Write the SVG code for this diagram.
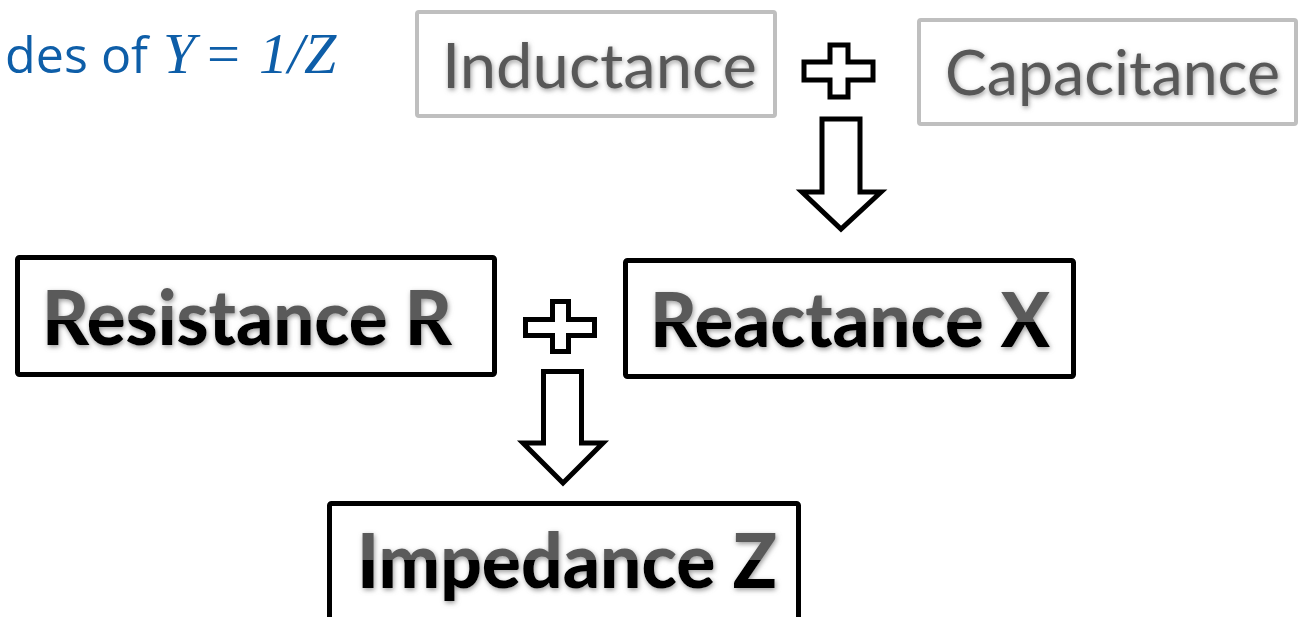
<svg xmlns="http://www.w3.org/2000/svg" width="1315" height="617" viewBox="0 0 1315 617">
<style>
.title{font-family:"Open Sans","Liberation Sans",sans-serif;font-size:50px;fill:#0e5ea8}
.math{font-family:"Liberation Serif","Times New Roman",serif;font-size:58px;fill:#0e5ea8}
.it{font-style:italic}
.gbox{fill:#fff;stroke:#bfbfbf;stroke-width:4}
.bbox{fill:#fff;stroke:#000;stroke-width:5}
.light{font-family:Lato,"Open Sans",sans-serif;font-size:62px;fill:#595959}
.bold{font-family:Lato,"Open Sans",sans-serif;font-weight:900;font-size:76px}
.shape{fill:#fff;stroke:#000;stroke-width:5;stroke-linejoin:miter}
</style>
<defs>
<filter id="soft" x="-10%" y="-30%" width="120%" height="160%">
<feGaussianBlur in="SourceAlpha" stdDeviation="2.5" result="b"/>
<feOffset in="b" dx="0.5" dy="1.5" result="o"/>
<feFlood flood-color="#808080" flood-opacity="0.8" result="f"/>
<feComposite in="f" in2="o" operator="in" result="s"/>
<feMerge result="m"><feMergeNode in="s"/><feMergeNode in="SourceGraphic"/></feMerge>
<feGaussianBlur in="m" stdDeviation="0.7"/>
</filter>
<linearGradient id="gR" gradientUnits="userSpaceOnUse" x1="0" y1="290" x2="0" y2="345">
<stop offset="0.54" stop-color="#5a5a5a"/><stop offset="0.54" stop-color="#000"/>
</linearGradient>
<linearGradient id="gX" gradientUnits="userSpaceOnUse" x1="0" y1="292" x2="0" y2="347">
<stop offset="0.54" stop-color="#5a5a5a"/><stop offset="0.54" stop-color="#000"/>
</linearGradient>
<linearGradient id="gZ" gradientUnits="userSpaceOnUse" x1="0" y1="535" x2="0" y2="588">
<stop offset="0.48" stop-color="#5a5a5a"/><stop offset="0.48" stop-color="#000"/>
</linearGradient>
</defs>
<rect width="1315" height="617" fill="#fff"/>

<g id="title">
<text class="title" x="5" y="73" textLength="143" lengthAdjust="spacingAndGlyphs">des of</text>
<text class="math it" x="163" y="73">Y</text>
<text class="math" x="207" y="73" textLength="33" lengthAdjust="spacingAndGlyphs">=</text>
<text class="math it" x="259" y="73">1/Z</text>
</g>

<g id="inductance">
<rect class="gbox" x="417" y="12" width="358" height="104" rx="2"/>
<text class="light" x="442" y="88" textLength="315" lengthAdjust="spacingAndGlyphs" filter="url(#soft)">Inductance</text>
</g>

<g id="capacitance">
<rect class="gbox" x="919" y="20" width="377" height="104" rx="2"/>
<text class="light" x="945" y="95" textLength="335" lengthAdjust="spacingAndGlyphs" filter="url(#soft)">Capacitance</text>
</g>

<g id="resistance">
<rect class="bbox" x="17.5" y="257.5" width="477" height="117" rx="2"/>
<text class="bold" x="42" y="345" fill="url(#gR)" textLength="410" lengthAdjust="spacingAndGlyphs" filter="url(#soft)">Resistance R</text>
</g>

<g id="reactance">
<rect class="bbox" x="625.5" y="260.5" width="448" height="116" rx="2"/>
<text class="bold" x="650" y="347" fill="url(#gX)" textLength="400" lengthAdjust="spacingAndGlyphs" filter="url(#soft)">Reactance X</text>
</g>

<g id="impedance">
<rect class="bbox" x="329.5" y="503.5" width="469" height="130" rx="2"/>
<text class="bold" x="357" y="588" fill="url(#gZ)" textLength="420" lengthAdjust="spacingAndGlyphs" filter="url(#soft)">Impedance Z</text>
</g>

<g id="connectors">
<path class="shape" d="M804,62 H830 V45 H848 V62 H873 V80 H848 V97 H830 V80 H804 Z"/>
<path class="shape" d="M822,119 H860 V192 H881 L841,229 L802,192 H822 Z"/>
<path class="shape" d="M525.5,319.5 H552.5 V301.5 H568.5 V319.5 H594.5 V335.5 H568.5 V351.5 H552.5 V335.5 H525.5 Z"/>
<path class="shape" d="M543.5,371.5 H581.5 V443 H603 L563,483 L523,443 H543.5 Z"/>
</g>
</svg>
